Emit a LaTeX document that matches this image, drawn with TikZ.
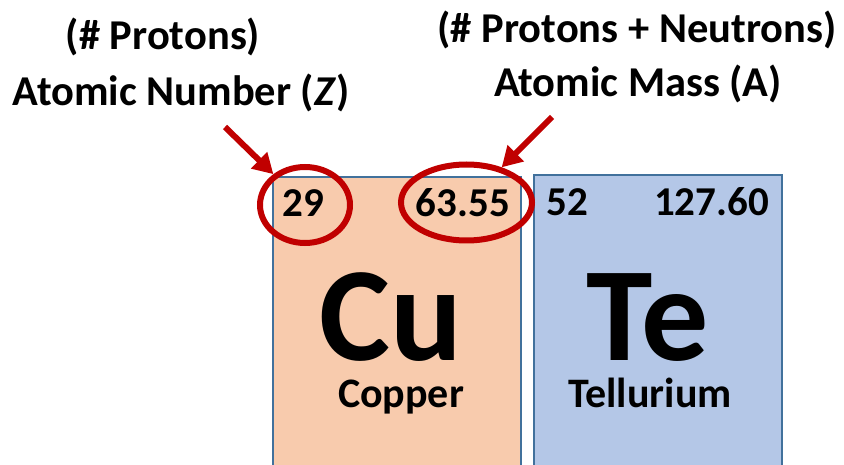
\documentclass[tikz,border=0pt]{standalone}
\usepackage{fontspec}
\setmainfont{Carlito}
\usetikzlibrary{arrows.meta,shapes.geometric}
\definecolor{cufill}{HTML}{F8CBAD}
\definecolor{tefill}{HTML}{B4C7E7}
\definecolor{boxline}{HTML}{41719C}
\definecolor{redmark}{HTML}{C00000}
\begin{document}
\begin{tikzpicture}[x=1pt,y=-1pt,
  elembox/.style={draw=boxline, line width=2pt, anchor=north west, inner sep=0pt, minimum width=248pt, minimum height=320pt},
  numtxt/.style={anchor=base, inner sep=0pt, font=\bfseries\fontsize{41}{48}\selectfont},
  symtxt/.style={anchor=base, inner sep=0pt, text height=90pt, text depth=0pt, font=\bfseries\fontsize{134}{140}\selectfont},
  nametxt/.style={anchor=base, inner sep=0pt, text height=30pt, text depth=9pt, font=\bfseries\fontsize{42}{48}\selectfont},
  lbltxt/.style={anchor=base, inner sep=0pt, font=\bfseries\fontsize{42.5}{50}\selectfont},
  ring/.style={ellipse, draw=redmark, line width=6pt, inner sep=0pt},
  ptr/.style={draw=redmark, line width=6pt, -{Triangle[length=20pt,width=22pt]}}]
\clip (0,0) rectangle (844,465);
\fill[white] (0,0) rectangle (844,465);
% element boxes
\node[elembox, fill=cufill] (cubox) at (272,176) {};
\node[elembox, fill=tefill] (tebox) at (533,174) {};
% rings
\node[ring, minimum width=90pt, minimum height=76pt] (zring) at (305,205) {};
\node[ring, minimum width=131pt, minimum height=76pt] (aring) at (466.5,202.5) {};
% numbers
\node[numtxt] (n29) at (303,216.5) {29};
\node[numtxt] (n6355) at (463,216.5) {63.55};
\node[numtxt] (n52) at (567,216) {52};
\node[numtxt] (n12760) at (711.5,216) {127.60};
% symbols and names
\node[symtxt] (cu) at (391,360) {Cu};
\node[symtxt] (te) at (647.5,360) {Te};
\node[nametxt] (copper) at (401,407) {Copper};
\node[nametxt] (tellurium) at (650,407) {Tellurium};
% labels
\node[lbltxt] (zl1) at (163,50) {(\# Protons)};
\node[lbltxt] (zl2) at (181,106) {Atomic Number (\textit{Z})};
\node[lbltxt] (al1) at (637,43) {(\# Protons + Neutrons)};
\node[lbltxt] (al2) at (638,97) {Atomic Mass (A)};
% arrows
\coordinate (zs) at (225,127);
\coordinate (as) at (552,117);
\draw[ptr] (zs) -- (zring);
\draw[ptr] (as) -- (aring);
\end{tikzpicture}
\end{document}
